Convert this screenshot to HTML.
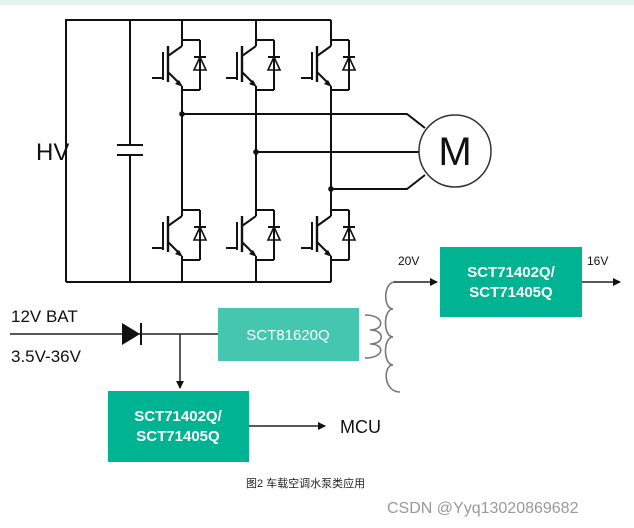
<!DOCTYPE html>
<html><head><meta charset="utf-8"><style>
html,body{margin:0;padding:0;background:#fff;}
svg{display:block;}
</style></head><body>
<svg width="634" height="528" viewBox="0 0 634 528" xmlns="http://www.w3.org/2000/svg">
<defs>
<g id="igbt" fill="none" stroke="#111" stroke-width="2">
  <line x1="0" y1="0" x2="18" y2="0"/>
  <line x1="18" y1="0" x2="18" y2="50"/>
  <line x1="0" y1="50" x2="18" y2="50"/>
  <line x1="12" y1="17" x2="24" y2="17"/>
  <polygon points="18,17 12,30 24,30" stroke-width="1.6"/>
  <line x1="0" y1="0" x2="0" y2="6"/>
  <line x1="-14" y1="6" x2="-14" y2="42" stroke-width="2.4"/>
  <line x1="-19" y1="12" x2="-19" y2="40"/>
  <line x1="-30" y1="38" x2="-19" y2="38"/>
  <line x1="-14" y1="16" x2="0" y2="6"/>
  <line x1="-14" y1="32" x2="-2" y2="44"/>
  <line x1="0" y1="46" x2="0" y2="50"/>
  <polygon points="1,47 -7,44 -3,40" fill="#111" stroke="none"/>
</g>
<marker id="ar" markerWidth="8" markerHeight="8" refX="7" refY="4" orient="auto" markerUnits="userSpaceOnUse">
  <path d="M0,0 L8,4 L0,8 Z" fill="#111"/>
</marker>
</defs>
<rect x="0" y="0" width="634" height="5" fill="#e3f4ef"/>
<g stroke="#111" stroke-width="2" fill="none">
  <polyline points="66,282 66,20 331,20"/>
  <line x1="66" y1="282" x2="331" y2="282"/>
  <line x1="130" y1="20" x2="130" y2="145"/>
  <line x1="130" y1="155" x2="130" y2="282"/>
  <line x1="117" y1="145" x2="143" y2="145"/>
  <line x1="117" y1="155" x2="143" y2="155"/>
  <line x1="182" y1="20" x2="182" y2="40"/>
  <line x1="256" y1="20" x2="256" y2="40"/>
  <line x1="331" y1="20" x2="331" y2="40"/>
  <line x1="182" y1="90" x2="182" y2="210"/>
  <line x1="256" y1="90" x2="256" y2="210"/>
  <line x1="331" y1="90" x2="331" y2="210"/>
  <line x1="182" y1="260" x2="182" y2="282"/>
  <line x1="256" y1="260" x2="256" y2="282"/>
  <line x1="331" y1="260" x2="331" y2="282"/>
  <polyline points="182,114 407,114 425,128"/>
  <line x1="256" y1="152" x2="419" y2="152"/>
  <polyline points="331,189 407,189 425,175"/>
</g>
<g fill="#111">
  <circle cx="182" cy="114" r="2.8"/><circle cx="256" cy="152" r="2.8"/><circle cx="331" cy="189" r="2.8"/>
</g>
<use href="#igbt" x="182" y="40"/><use href="#igbt" x="256" y="40"/><use href="#igbt" x="331" y="40"/>
<use href="#igbt" x="182" y="210"/><use href="#igbt" x="256" y="210"/><use href="#igbt" x="331" y="210"/>
<circle cx="455" cy="151" r="36" fill="#fff" stroke="#333" stroke-width="1.5"/>
<text x="455" y="165" font-family="Liberation Sans, sans-serif" font-size="40" text-anchor="middle" fill="#111">M</text>
<text x="36" y="160" font-family="Liberation Sans, sans-serif" font-size="24" fill="#111">HV</text>

<text x="11" y="322" font-family="Liberation Sans, sans-serif" font-size="17" fill="#111">12V BAT</text>
<text x="11" y="362" font-family="Liberation Sans, sans-serif" font-size="17" fill="#111">3.5V-36V</text>
<line x1="10" y1="334" x2="218" y2="334" stroke="#222" stroke-width="1.5"/>
<polygon points="122,323 122,345 140,334" fill="#111"/>
<line x1="141" y1="323" x2="141" y2="345" stroke="#111" stroke-width="2"/>
<line x1="180" y1="334" x2="180" y2="388" stroke="#222" stroke-width="1.5" marker-end="url(#ar)"/>
<rect x="218" y="308" width="141" height="53" fill="#45c6ae"/>
<text x="288" y="340" font-family="Liberation Sans, sans-serif" font-size="15" fill="#fff" text-anchor="middle">SCT81620Q</text>
<rect x="108" y="391" width="141" height="71" fill="#00b393"/>
<text x="178" y="421" font-family="Liberation Sans, sans-serif" font-size="15" font-weight="bold" fill="#fff" text-anchor="middle">SCT71402Q/</text>
<text x="178" y="441" font-family="Liberation Sans, sans-serif" font-size="15" font-weight="bold" fill="#fff" text-anchor="middle">SCT71405Q</text>
<line x1="249" y1="426" x2="325" y2="426" stroke="#222" stroke-width="1.5" marker-end="url(#ar)"/>
<text x="340" y="433" font-family="Liberation Sans, sans-serif" font-size="18" fill="#111">MCU</text>

<g fill="none" stroke="#777" stroke-width="1.6">
  <path d="M365,315 C385,315 385,330 370,330 C385,330 385,344 370,344 C385,344 385,358 365,358"/>
  <path d="M395,282 C383,282 383,309 393,309 C383,309 383,337 393,337 C383,337 383,365 393,365 C383,365 383,392 400,392"/>
</g>
<line x1="394" y1="282" x2="437" y2="282" stroke="#222" stroke-width="1.5" marker-end="url(#ar)"/>
<text x="398" y="265" font-family="Liberation Sans, sans-serif" font-size="12" fill="#111">20V</text>
<rect x="440" y="247" width="142" height="70" fill="#00b393"/>
<text x="511" y="277" font-family="Liberation Sans, sans-serif" font-size="15" font-weight="bold" fill="#fff" text-anchor="middle">SCT71402Q/</text>
<text x="511" y="297" font-family="Liberation Sans, sans-serif" font-size="15" font-weight="bold" fill="#fff" text-anchor="middle">SCT71405Q</text>
<line x1="582" y1="282" x2="620" y2="282" stroke="#222" stroke-width="1.5" marker-end="url(#ar)"/>
<text x="587" y="265" font-family="Liberation Sans, sans-serif" font-size="12" fill="#111">16V</text>

<text x="246" y="487" font-family="Liberation Sans, 'Noto Sans CJK SC', sans-serif" font-size="11" fill="#222">图2  车载空调水泵类应用</text>
<text x="387" y="513" font-family="Liberation Sans, 'Noto Sans CJK SC', sans-serif" font-size="16" fill="#999">CSDN @Yyq13020869682</text>
</svg>
</body></html>
